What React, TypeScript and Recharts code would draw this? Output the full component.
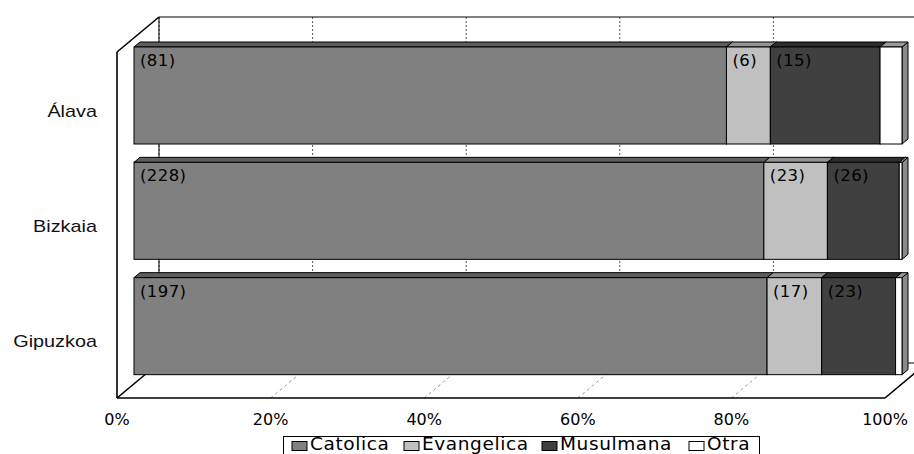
import { Bar, BarChart, CartesianGrid, Customized, LabelList, XAxis, YAxis } from "recharts";

const PROVINCIAS = ["Álava", "Bizkaia", "Gipuzkoa"];
const CATOLICA = [81, 228, 197];
const EVANGELICA = [6, 23, 17];
const MUSULMANA = [15, 26, 23];
const OTRA = [3, 1, 2];
const PCT_TICKS = [0, 0.2, 0.4, 0.6, 0.8, 1];

const data = PROVINCIAS.map((provincia, i) => ({
  provincia,
  catolica: CATOLICA[i],
  evangelica: EVANGELICA[i],
  musulmana: MUSULMANA[i],
  otra: OTRA[i],
}));

// front/top/side shades for every stacked series
const SERIES = [
  { key: "catolica", name: "Catolica", front: "#808080", top: "#5e5e5e", side: "#6a6a6a", label: true },
  { key: "evangelica", name: "Evangelica", front: "#c0c0c0", top: "#939393", side: "#a0a0a0", label: true },
  { key: "musulmana", name: "Musulmana", front: "#404040", top: "#2e2e2e", side: "#333333", label: true },
  { key: "otra", name: "Otra", front: "#ffffff", top: "#9a9a9a", side: "#8a8a8a", label: false },
];

const W = 914;
const H = 454;
const MARGIN = { top: 52, right: 29, bottom: 16, left: 7 };
const Y_AXIS_W = 110;
const X_AXIS_H = 40;

// plot area (front plane of the floor)
const L = MARGIN.left + Y_AXIS_W;
const T = MARGIN.top;
const R = W - MARGIN.right;
const B = H - MARGIN.bottom - X_AXIS_H;

// depth of the whole box, offset of the bar plane, thickness of the bars
const DX = 42;
const DY = 35;
const SX = 17;
const SY = 14;
const BX = 6;
const BY = 5;

const FONT = "'DejaVu Sans', Verdana, sans-serif";

function Box3D(props: any) {
  const { x, y, width, height, s } = props;
  if (width == null || height == null) return null;
  const fx = x + SX;
  const fy = y - SY;
  const w = Math.max(width, 0);
  const h = height;
  const top = `${fx},${fy} ${fx + BX},${fy - BY} ${fx + w + BX},${fy - BY} ${fx + w},${fy}`;
  const side = `${fx + w},${fy} ${fx + w + BX},${fy - BY} ${fx + w + BX},${fy + h - BY} ${fx + w},${fy + h}`;
  return (
    <g>
      <polygon points={side} fill={s.side} stroke="#000" strokeWidth={1} strokeLinejoin="round" />
      <polygon points={top} fill={s.top} stroke="#000" strokeWidth={1} strokeLinejoin="round" />
      <rect x={fx} y={fy} width={w} height={h} fill={s.front} stroke="#000" strokeWidth={1} />
    </g>
  );
}

function GridPair(props: any) {
  const { x1, y1, y2 } = props;
  const bx = x1 + DX;
  return (
    <g>
      <line x1={bx} y1={y1 - DY} x2={bx} y2={y2 - DY} stroke="#555" strokeWidth={1} strokeDasharray="2 2" />
      <line x1={x1} y1={y2} x2={bx} y2={y2 - DY} stroke="#999" strokeWidth={1} strokeDasharray="3 3" />
    </g>
  );
}

function Walls() {
  return (
    <g fill="none" stroke="#000">
      <line x1={L + DX} y1={T - DY} x2={R + DX} y2={T - DY} strokeWidth={1} />
      <line x1={L + DX} y1={T - DY} x2={L + DX} y2={B - DY} strokeWidth={1} />
      <line x1={L + DX} y1={B - DY} x2={R + DX} y2={B - DY} strokeWidth={1} />
      <line x1={L} y1={T} x2={L + DX} y2={T - DY} strokeWidth={1.6} />
      <line x1={L} y1={T} x2={L} y2={B} strokeWidth={1.6} />
      <line x1={L} y1={B} x2={L + DX} y2={B - DY} strokeWidth={1.6} />
      <line x1={R} y1={B} x2={R + DX} y2={B - DY} strokeWidth={1.6} />
    </g>
  );
}

function LegendBox() {
  const xs = [292, 404, 542, 689];
  return (
    <g>
      <rect x={283.5} y={436.5} width={476} height={40} fill="#fff" stroke="#000" strokeWidth={1} />
      {SERIES.map((s, i) => (
        <g key={s.key}>
          <rect x={xs[i]} y={441.5} width={15} height={9} fill={s.front} stroke="#000" strokeWidth={1} />
          <text x={xs[i] + 18} y={450} fontFamily={FONT} fontSize={18.5} letterSpacing={0.6} fill="#000">
            {s.name}
          </text>
        </g>
      ))}
    </g>
  );
}

const PctTick = ({ x, y, payload }: any) => (
  <text x={x} y={y} textAnchor="middle" fontFamily={FONT} fontSize={16} fill="#000">
    {`${Math.round(payload.value * 100)}%`}
  </text>
);

const ProvTick = ({ x, y, payload }: any) => (
  <text
    transform={`translate(${x},${y + 7}) scale(1.24,1)`}
    textAnchor="end"
    fontFamily="'Liberation Sans', Arial, sans-serif"
    fontSize={16}
    fill="#111"
  >
    {payload.value}
  </text>
);

const countLabel = (p: any) => {
  const { x, y, value } = p;
  return (
    <text x={x + SX + 6} y={y - SY + 19} fontFamily={FONT} fontSize={16.5} letterSpacing={0.4} fill="#000">
      {`(${value})`}
    </text>
  );
};

export default function App() {
  return (
    <div style={{ position: "absolute", left: 0, top: 0, width: W, height: H, background: "#fff" }}>
      <BarChart
        width={W}
        height={H}
        data={data}
        layout="vertical"
        stackOffset="expand"
        margin={MARGIN}
        barSize={97}
      >
        <Customized component={<Walls />} />
        <CartesianGrid horizontal={false} vertical={(p: any) => <GridPair key={p.key} {...p} />} />
        <XAxis
          type="number"
          domain={[0, 1]}
          ticks={PCT_TICKS}
          height={X_AXIS_H}
          tickSize={0}
          tickMargin={27}
          tickLine={false}
          axisLine={{ stroke: "#000", strokeWidth: 1.6 }}
          tick={<PctTick />}
        />
        <YAxis
          type="category"
          dataKey="provincia"
          width={Y_AXIS_W}
          tickSize={0}
          tickMargin={20}
          tickLine={false}
          axisLine={false}
          tick={<ProvTick />}
        />
        {SERIES.map((s) => (
          <Bar
            key={s.key}
            dataKey={s.key}
            name={s.name}
            stackId="a"
            fill={s.front}
            isAnimationActive={false}
            shape={(p: any) => <Box3D {...p} s={s} />}
          >
            {s.label && <LabelList dataKey={s.key} content={countLabel} />}
          </Bar>
        ))}
        <Customized component={<LegendBox />} />
      </BarChart>
    </div>
  );
}
